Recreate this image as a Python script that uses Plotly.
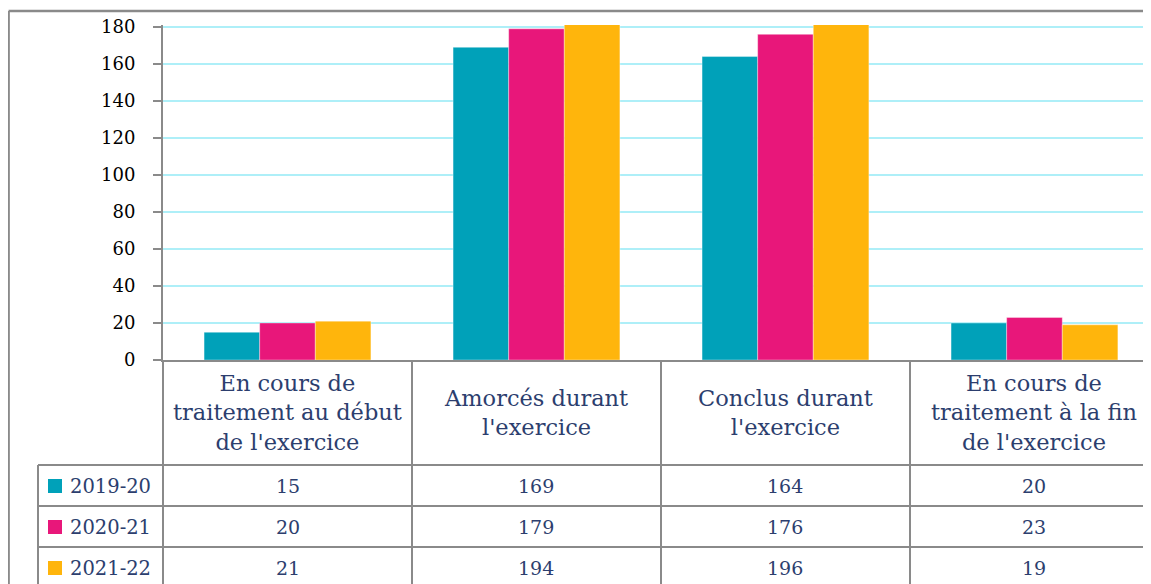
import plotly.graph_objects as go

categories = [
    "En cours de<br>traitement au début<br>de l'exercice",
    "Amorcés durant<br>l'exercice",
    "Conclus durant<br>l'exercice",
    "En cours de<br>traitement à la fin<br>de l'exercice",
]
series_names = ["2019-20", "2020-21", "2021-22"]
values_2019_20 = [15, 169, 164, 20]
values_2020_21 = [20, 179, 176, 23]
values_2021_22 = [21, 194, 196, 19]
series_values = [values_2019_20, values_2020_21, values_2021_22]
colors = ["#00A1B9", "#E8177A", "#FFB50C"]
y_ticks = [0, 20, 40, 60, 80, 100, 120, 140, 160, 180]

# page body has an 8px margin: figure drawn from (8, 8)
OFF = 8
W, H = 1151 - OFF, 584 - OFF
FONT = "DejaVu Serif"
NAVY = "#2C3E6E"
GRAY = "#8A8A8A"


def px(x):
    return (x - OFF) / W


def py(y):
    return 1 - (y - OFF) / H


fig = go.Figure()
xs = list(range(len(categories)))
for name, vals, col in zip(series_names, series_values, colors):
    fig.add_trace(go.Bar(x=xs, y=vals, name=name,
                         marker=dict(color=col, line=dict(width=0.6, color="rgba(255,255,255,0.6)")),
                         showlegend=False))

shapes = []
# outer frame
shapes.append(dict(type="line", xref="paper", yref="paper", x0=px(8.6), x1=1.0, y0=py(11), y1=py(11),
                   line=dict(color=GRAY, width=2.5)))
shapes.append(dict(type="line", xref="paper", yref="paper", x0=px(8.6), x1=px(8.6), y0=py(11), y1=0,
                   line=dict(color=GRAY, width=2.5)))
# table vertical lines
for xv in [163, 412, 661, 910]:
    shapes.append(dict(type="line", xref="paper", yref="paper", x0=px(xv), x1=px(xv), y0=py(360), y1=0,
                       line=dict(color=GRAY, width=2)))
shapes.append(dict(type="line", xref="paper", yref="paper", x0=px(38), x1=px(38), y0=py(465), y1=0,
                   line=dict(color=GRAY, width=2)))
# table horizontal lines
for yv in [465, 506, 547]:
    shapes.append(dict(type="line", xref="paper", yref="paper", x0=px(38), x1=1.0, y0=py(yv), y1=py(yv),
                       line=dict(color=GRAY, width=2)))

annotations = []
header_y = 412
for i, cat in enumerate(categories):
    annotations.append(dict(x=i, xref="x", y=py(header_y), yref="paper", text=cat, showarrow=False,
                            font=dict(family=FONT, size=22.5, color=NAVY), align="center",
                            xanchor="center", yanchor="middle"))

row_centers = [486, 527, 568]
for r, (name, vals, col) in enumerate(zip(series_names, series_values, colors)):
    yc = row_centers[r]
    shapes.append(dict(type="rect", xref="paper", yref="paper", x0=px(48), x1=px(62), y0=py(yc + 7),
                       y1=py(yc - 7), fillcolor=col, line=dict(width=0)))
    annotations.append(dict(x=px(68), xref="paper", y=py(yc), yref="paper", text=name, showarrow=False,
                            font=dict(family=FONT, size=19.5, color=NAVY), xanchor="left", yanchor="middle"))
    for i, v in enumerate(vals):
        annotations.append(dict(x=i, xref="x", y=py(yc), yref="paper", text=str(v), showarrow=False,
                                font=dict(family=FONT, size=19, color=NAVY), xanchor="center",
                                yanchor="middle"))

fig.update_layout(
    width=W, height=H, autosize=False,
    margin=dict(l=0, r=0, t=0, b=0, pad=0, autoexpand=False),
    paper_bgcolor="white", plot_bgcolor="white",
    barmode="group", bargap=0.33, bargroupgap=0,
    shapes=shapes, annotations=annotations,
    xaxis=dict(domain=[px(163), 1.0], range=[-0.5, 3.468], showline=True, linecolor=GRAY, linewidth=2,
               showticklabels=False, ticks="", showgrid=False, zeroline=False, fixedrange=True,
               automargin=False),
    yaxis=dict(domain=[py(360), py(25.1)], range=[0, 181], tickvals=y_ticks, showline=True, linecolor=GRAY,
               linewidth=2, ticks="outside", ticklen=8, tickwidth=2, tickcolor=GRAY, ticklabelstandoff=14,
               tickfont=dict(family=FONT, size=18, color="black"), showgrid=True, gridcolor="#AEEFF8",
               gridwidth=1.5, zeroline=False, fixedrange=True, automargin=False),
)

fig.write_html("out.html")
